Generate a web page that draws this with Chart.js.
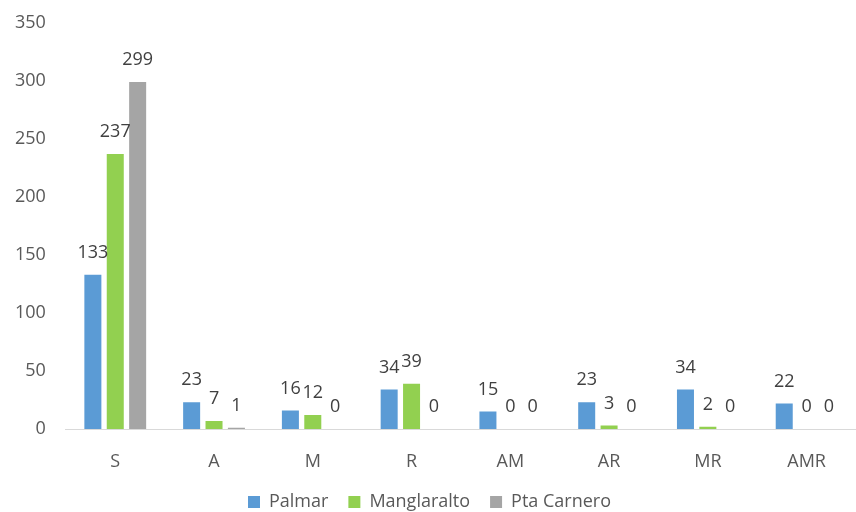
<!DOCTYPE html>
<html>
<head>
<meta charset="utf-8">
<script src="https://cdn.jsdelivr.net/npm/chart.js@4/dist/chart.umd.min.js"></script>
<style>
  html, body { margin: 0; padding: 0; background: #fff; }
  #wrap { width: 856px; height: 512px; }
</style>
</head>
<body>
<div id="wrap"><canvas id="chart-area" width="856" height="512"></canvas></div>
<script>
var categories = ['S', 'A', 'M', 'R', 'AM', 'AR', 'MR', 'AMR'];
var palmar = [133, 23, 16, 34, 15, 23, 34, 22];
var manglaralto = [237, 7, 12, 39, 0, 3, 2, 0];
var ptaCarnero = [299, 1, 0, 0, 0, 0, 0, 0];
var yTicks = [0, 50, 100, 150, 200, 250, 300, 350];

var fontFamily = '"Open Sans", "DejaVu Sans", sans-serif';
var bottomPad = -9;

// value labels above each bar
var barLabels = {
  id: 'barLabels',
  afterDatasetsDraw: function(chart) {
    var ctx = chart.ctx;
    ctx.save();
    ctx.font = '18px ' + fontFamily;
    ctx.fillStyle = '#404040';
    ctx.textAlign = 'center';
    ctx.textBaseline = 'bottom';
    chart.data.datasets.forEach(function(ds, i) {
      var meta = chart.getDatasetMeta(i);
      meta.data.forEach(function(bar, j) {
        ctx.fillText(ds.data[j], bar.x, bar.y - 13);
      });
    });
    ctx.restore();
  }
};

var config = {
  type: 'bar',
  data: {
    labels: categories,
    datasets: [{
      label: 'Palmar',
      data: palmar,
      backgroundColor: '#5B9BD5'
    }, {
      label: 'Manglaralto',
      data: manglaralto,
      backgroundColor: '#92D050'
    }, {
      label: 'Pta Carnero',
      data: ptaCarnero,
      backgroundColor: '#A5A5A5'
    }]
  },
  options: {
    responsive: false,
    animation: false,
    layout: {
      padding: { top: 8, right: 0, left: 3, bottom: bottomPad }
    },
    datasets: {
      bar: {
        categoryPercentage: 0.68,
        barPercentage: 0.76
      }
    },
    scales: {
      x: {
        grid: { display: false },
        border: { display: true, color: '#d9d9d9', width: 1 },
        ticks: {
          color: '#595959',
          padding: 14,
          font: { size: 18, family: fontFamily }
        },
        afterFit: function(axis) {
          // keep the baseline where the reference has it
          var lg = axis.chart.legend;
          if (lg && lg.height) {
            axis.height = 512 - bottomPad - lg.height - 429;
          }
        }
      },
      y: {
        min: 0,
        max: 350,
        afterBuildTicks: function(axis) {
          axis.ticks = yTicks.map(function(v) { return { value: v }; });
        },
        grid: { display: false },
        border: { display: false },
        ticks: {
          color: '#595959',
          padding: 12,
          font: { size: 18, family: fontFamily }
        }
      }
    },
    plugins: {
      legend: {
        position: 'bottom',
        labels: {
          boxWidth: 12,
          boxHeight: 12,
          padding: 20,
          color: '#595959',
          font: { size: 18, family: fontFamily }
        }
      },
      tooltip: { enabled: false }
    }
  },
  plugins: [barLabels]
};

window.onload = function() {
  var ctx = document.getElementById('chart-area').getContext('2d');
  window.myBar = new Chart(ctx, config);
};
</script>
</body>
</html>
